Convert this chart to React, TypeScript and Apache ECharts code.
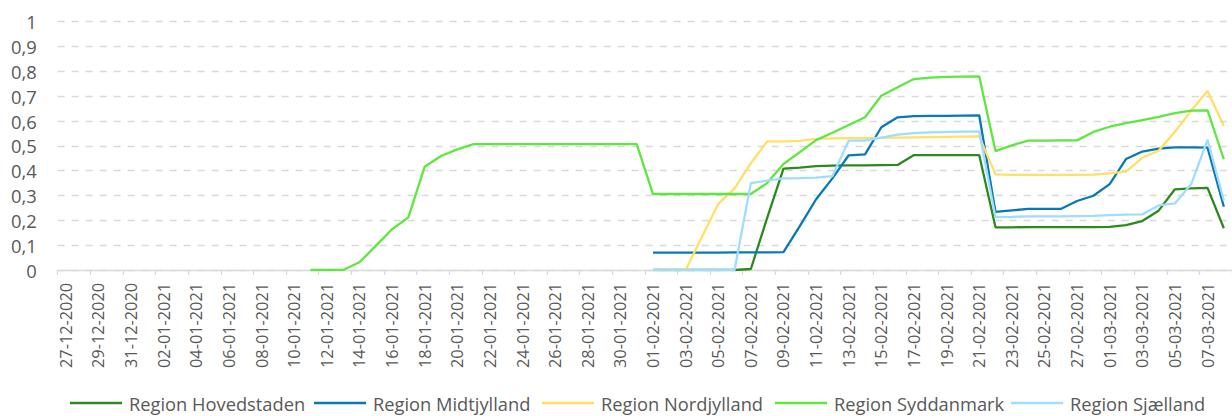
import React, { useEffect, useRef } from "react";
import * as echarts from "echarts";

const categories: string[] = [
  "27-12-2020", "28-12-2020", "29-12-2020", "30-12-2020", "31-12-2020",
  "01-01-2021", "02-01-2021", "03-01-2021", "04-01-2021", "05-01-2021", "06-01-2021", "07-01-2021",
  "08-01-2021", "09-01-2021", "10-01-2021", "11-01-2021", "12-01-2021", "13-01-2021", "14-01-2021",
  "15-01-2021", "16-01-2021", "17-01-2021", "18-01-2021", "19-01-2021", "20-01-2021", "21-01-2021",
  "22-01-2021", "23-01-2021", "24-01-2021", "25-01-2021", "26-01-2021", "27-01-2021", "28-01-2021",
  "29-01-2021", "30-01-2021", "31-01-2021",
  "01-02-2021", "02-02-2021", "03-02-2021", "04-02-2021", "05-02-2021", "06-02-2021", "07-02-2021",
  "08-02-2021", "09-02-2021", "10-02-2021", "11-02-2021", "12-02-2021", "13-02-2021", "14-02-2021",
  "15-02-2021", "16-02-2021", "17-02-2021", "18-02-2021", "19-02-2021", "20-02-2021", "21-02-2021",
  "22-02-2021", "23-02-2021", "24-02-2021", "25-02-2021", "26-02-2021", "27-02-2021", "28-02-2021",
  "01-03-2021", "02-03-2021", "03-03-2021", "04-03-2021", "05-03-2021", "06-03-2021", "07-03-2021",
  "08-03-2021",
];

// Each series starts at its first date; earlier dates have no value.
const hovedstadenStart = "01-02-2021";
const hovedstaden: number[] = [
  0, 0, 0, 0, 0, 0, 0.004, 0.21, 0.408, 0.412, 0.418, 0.42, 0.421, 0.421, 0.422, 0.423,
  0.463, 0.463, 0.463, 0.463, 0.463, 0.172, 0.172, 0.173, 0.173, 0.173, 0.173, 0.173, 0.174,
  0.181, 0.197, 0.239, 0.325, 0.329, 0.331, 0.168,
];

const midtjyllandStart = "01-02-2021";
const midtjylland: number[] = [
  0.07, 0.07, 0.07, 0.07, 0.07, 0.071, 0.071, 0.071, 0.072, 0.177, 0.285, 0.369, 0.462, 0.466,
  0.575, 0.615, 0.62, 0.621, 0.621, 0.622, 0.623, 0.234, 0.24, 0.246, 0.246, 0.246, 0.278,
  0.299, 0.346, 0.447, 0.477, 0.489, 0.494, 0.494, 0.493, 0.255,
];

const nordjyllandStart = "01-02-2021";
const nordjylland: number[] = [
  0, 0, 0, 0.134, 0.266, 0.329, 0.43, 0.518, 0.518, 0.52, 0.528, 0.53, 0.531, 0.531, 0.532,
  0.533, 0.534, 0.535, 0.536, 0.537, 0.538, 0.385, 0.383, 0.383, 0.383, 0.383, 0.383, 0.384,
  0.389, 0.396, 0.452, 0.48, 0.557, 0.642, 0.721, 0.58,
];

const syddanmarkStart = "11-01-2021";
const syddanmark: number[] = [
  0, 0, 0, 0.031, 0.097, 0.164, 0.212, 0.416, 0.459, 0.486, 0.507, 0.507, 0.507, 0.507, 0.507,
  0.507, 0.507, 0.507, 0.507, 0.507, 0.507, 0.306, 0.306, 0.306, 0.306, 0.306, 0.306, 0.306,
  0.35, 0.427, 0.475, 0.523, 0.553, 0.584, 0.615, 0.702, 0.736, 0.769, 0.775, 0.778, 0.779,
  0.78, 0.479, 0.502, 0.521, 0.521, 0.522, 0.522, 0.556, 0.577, 0.592, 0.604, 0.617, 0.632,
  0.642, 0.643, 0.446,
];

const sjaellandStart = "01-02-2021";
const sjaelland: number[] = [
  0, 0, 0, 0, 0, 0, 0.35, 0.36, 0.369, 0.37, 0.372, 0.378, 0.521, 0.521, 0.533, 0.545, 0.551,
  0.554, 0.556, 0.557, 0.558, 0.213, 0.214, 0.216, 0.216, 0.216, 0.217, 0.218, 0.221, 0.223,
  0.224, 0.26, 0.268, 0.346, 0.524, 0.28,
];

const seriesNames = [
  "Region Hovedstaden",
  "Region Midtjylland",
  "Region Nordjylland",
  "Region Syddanmark",
  "Region Sjælland",
];
const seriesColors = ["#2b8a1e", "#0a78b2", "#ffe064", "#5ce83c", "#9fdcff"];

const yTicks = [0, 0.1, 0.2, 0.3, 0.4, 0.5, 0.6, 0.7, 0.8, 0.9, 1];

// horizontal start of each legend entry (layout)
const legendLefts = [65, 309, 537, 770, 1006];

function pad(start: string, values: number[]): (number | null)[] {
  const idx = categories.indexOf(start);
  const out: (number | null)[] = categories.map(() => null);
  values.forEach((v, i) => {
    if (idx + i < out.length) out[idx + i] = v;
  });
  return out;
}

const FONT = "'Open Sans', 'Noto Sans', sans-serif";
const TEXT = "#595959";
const GRID = "#d9d9d9";

export default function App() {
  const ref = useRef<HTMLDivElement>(null);

  useEffect(() => {
    if (!ref.current) return;
    const chart = echarts.init(ref.current, undefined, { renderer: "svg" });
    const datasets = [
      pad(hovedstadenStart, hovedstaden),
      pad(midtjyllandStart, midtjylland),
      pad(nordjyllandStart, nordjylland),
      pad(syddanmarkStart, syddanmark),
      pad(sjaellandStart, sjaelland),
    ];
    chart.setOption({
      animation: false,
      backgroundColor: "#ffffff",
      textStyle: { fontFamily: FONT },
      grid: { left: 57.7, top: 21.7, width: 1179.1, height: 248.3, containLabel: false },
      xAxis: {
        type: "category",
        data: categories,
        boundaryGap: true,
        axisLine: { show: true, lineStyle: { color: GRID, width: 1.3 } },
        axisTick: { show: true, interval: 1, length: 5, lineStyle: { color: GRID, width: 1.3 } },
        axisLabel: {
          interval: 1,
          rotate: 90,
          margin: 13,
          color: TEXT,
          fontSize: 16.3,
          fontFamily: FONT,
        },
        splitLine: { show: false },
      },
      yAxis: {
        type: "value",
        min: yTicks[0],
        max: yTicks[yTicks.length - 1],
        interval: 0.1,
        axisLine: { show: false },
        axisTick: { show: false },
        axisLabel: {
          margin: 21,
          color: TEXT,
          fontSize: 18.4,
          fontFamily: FONT,
          formatter: (v: number) => String(Math.round(v * 10) / 10).replace(".", ","),
        },
        splitLine: {
          show: true,
          lineStyle: { color: GRID, width: 1.3, type: [7, 7] },
        },
      },
      legend: seriesNames.map((name, i) => ({
        show: true,
        left: legendLefts[i],
        top: 389,
        icon: "rect",
        itemWidth: 52,
        itemHeight: 2.5,
        textStyle: { color: TEXT, fontSize: 18.3, fontFamily: FONT, padding: [0, 0, 0, 2] },
        data: [name],
      })),
      series: seriesNames.map((name, i) => ({
        name,
        type: "line",
        data: datasets[i],
        showSymbol: false,
        symbol: "none",
        connectNulls: false,
        color: seriesColors[i],
        lineStyle: { color: seriesColors[i], width: 2.3 },
      })),
    });
    return () => {
      chart.dispose();
    };
  }, []);

  return (
    <div
      ref={ref}
      style={{ position: "fixed", left: 0, top: 0, width: 1232, height: 416, background: "#fff" }}
    />
  );
}
